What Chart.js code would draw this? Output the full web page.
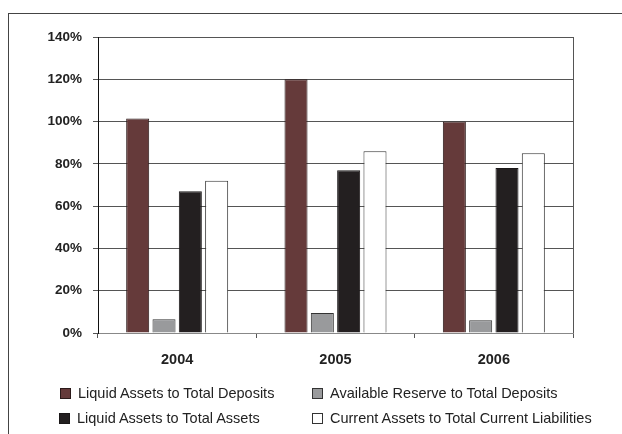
<!DOCTYPE html>
<html>
<head>
<meta charset="utf-8">
<script src="https://cdn.jsdelivr.net/npm/chart.js@4.4.1/dist/chart.umd.min.js"></script>
<style>
  html,body{margin:0;padding:0;background:#fff;}
  #wrap{position:relative;width:622px;height:434px;overflow:hidden;}
  #frame{position:absolute;left:8px;top:13px;right:-2px;bottom:-2px;border-top:1px solid #444;border-left:1px solid #444;}
  #chart{position:absolute;left:0;top:0;}
  .leg{position:absolute;display:flex;align-items:center;font:14.5px Arial,"Liberation Sans",sans-serif;color:#222;line-height:17px;white-space:nowrap;}
  .leg i{display:inline-block;width:9px;height:9px;border:1px solid #333;margin-right:7px;}
</style>
</head>
<body>
<div id="wrap">
  <div id="frame"></div>
  <canvas id="chart" width="622" height="434"></canvas>
  <div id="legend"></div>
</div>
<script>
const years = ["2004","2005","2006"];

const liquidToDeposits = [101.5, 120, 100];
const reserveToDeposits = [6.5, 9.5, 6];
const liquidToAssets = [67, 77, 78];
const currentToLiabilities = [72, 86, 85];

const seriesNames = [
  "Liquid Assets to Total Deposits",
  "Available Reserve to Total Deposits",
  "Liquid Assets to Total Assets",
  "Current Assets to Total Current Liabilities"
];
const fills = ["#653a3a","#999a9c","#231f20","#ffffff"];
const edges = ["#2b1a1a","#333333","#1a1718","#333333"];

const yTicks = [0,20,40,60,80,100,120,140];

const font = 'Arial, "Liberation Sans", sans-serif';

/* right edge of the plot box */
const plotEdge = {
  id:"plotEdge",
  afterDraw(c){
    const a=c.chartArea, g=c.ctx;
    g.save();
    g.strokeStyle="#555";
    g.lineWidth=1;
    g.beginPath();
    g.moveTo(Math.round(a.right)+0.5,a.top);
    g.lineTo(Math.round(a.right)+0.5,a.bottom);
    g.stroke();
    g.restore();
  }
};

const data = [liquidToDeposits, reserveToDeposits, liquidToAssets, currentToLiabilities];

new Chart(document.getElementById("chart"),{
  type:"bar",
  data:{
    labels:years,
    datasets:data.map((d,i)=>({
      label:seriesNames[i],
      data:d,
      backgroundColor:fills[i],
      borderColor:edges[i],
      borderWidth:1,
      barPercentage:0.875,
      categoryPercentage:0.665
    }))
  },
  options:{
    responsive:false,
    animation:false,
    layout:{padding:{top:37,right:49,left:0,bottom:0}},
    plugins:{legend:{display:false},tooltip:{enabled:false}},
    scales:{
      x:{
        afterFit(s){ s.height=101; },
        grid:{drawOnChartArea:false,color:"#555",tickLength:5,offset:true},
        border:{color:"#888",width:1},
        ticks:{padding:13,color:"#222",font:{family:font,size:14.5,weight:"bold"}}
      },
      y:{
        min:0,max:140,
        afterFit(s){ s.width=98; },
        afterBuildTicks(s){ s.ticks=yTicks.map(v=>({value:v})); },
        grid:{color:"#555",tickLength:5},
        border:{color:"#111",width:1},
        ticks:{padding:11,color:"#222",font:{family:font,size:13.5,weight:"bold"},
          callback:v=>v+"%"}
      }
    }
  },
  plugins:[plotEdge]
});

/* legend: two rows of two */
const legPos = [[60,385],[312,385],[59,410],[312,410]];
const legend = document.getElementById("legend");
seriesNames.forEach((n,i)=>{
  const d=document.createElement("div");
  d.className="leg";
  d.style.left=legPos[i][0]+"px";
  d.style.top=legPos[i][1]+"px";
  d.innerHTML=`<i style="background:${fills[i]};border-color:${edges[i]}"></i>${n}`;
  legend.appendChild(d);
});
</script>
</body>
</html>
